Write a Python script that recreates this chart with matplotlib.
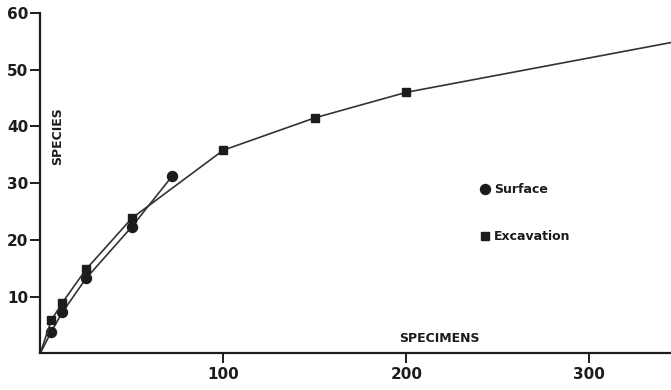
import matplotlib
matplotlib.use("Agg")
import matplotlib.pyplot as plt
from matplotlib.lines import Line2D

# Species accumulation: number of species vs number of specimens examined
surface_specimens = [0, 6, 12, 25, 50, 72]
surface_species = [0, 3.8, 7.2, 13.2, 22.3, 31.2]

excavation_specimens = [0, 6, 12, 25, 50, 100, 150, 200, 350]
excavation_species = [0, 5.8, 8.9, 14.8, 23.8, 35.8, 41.5, 46.0, 55.1]

x_ticks = [100, 200, 300]
y_ticks = [10, 20, 30, 40, 50, 60]

ink = "#1c1c1c"
line_col = "#333333"
font = "DejaVu Sans"

fig = plt.figure(figsize=(6.71, 3.90), dpi=100)
ax = fig.add_axes([0.060, 0.094, 0.940, 0.873])

ax.plot(surface_specimens, surface_species, color=line_col, lw=1.2,
        marker="o", ms=7.2, mfc=ink, mec=ink, markevery=list(range(1, len(surface_specimens))))
ax.plot(excavation_specimens, excavation_species, color=line_col, lw=1.2,
        marker="s", ms=6.2, mfc=ink, mec=ink, markevery=list(range(1, len(excavation_specimens))))

ax.set_xlim(0, 344.6)
ax.set_ylim(0, 60)

for side in ("top", "right"):
    ax.spines[side].set_visible(False)
for side in ("left", "bottom"):
    ax.spines[side].set_linewidth(1.6)
    ax.spines[side].set_color(ink)

ax.set_xticks(x_ticks)
ax.set_yticks(y_ticks)
ax.tick_params(axis="both", direction="out", length=7, width=1.4, color=ink,
               labelsize=11, labelcolor=ink)
ax.tick_params(axis="y", pad=1.5)
ax.tick_params(axis="x", pad=3)
for lab in ax.get_xticklabels() + ax.get_yticklabels():
    lab.set_fontweight("bold")
    lab.set_family(font)

ax.text(218, 2.6, "SPECIMENS", ha="center", va="center", fontsize=9,
        fontweight="bold", family=font, color=ink)
ax.text(9.7, 38.2, "SPECIES", ha="center", va="center", rotation=90,
        fontsize=9, fontweight="bold", family=font, color=ink)

handles = [
    Line2D([], [], linestyle="none", marker="o", ms=7.2, mfc=ink, mec=ink),
    Line2D([], [], linestyle="none", marker="s", ms=5.8, mfc=ink, mec=ink),
]
leg = ax.legend(handles, ["Surface", "Excavation"], loc="upper left",
                bbox_to_anchor=(0.697, 0.500), frameon=False,
                handlelength=0.8, handletextpad=0.35, labelspacing=2.72,
                borderpad=0, borderaxespad=0,
                prop={"family": font, "weight": "bold", "size": 9})
for t in leg.get_texts():
    t.set_color(ink)

fig.savefig("out.png", dpi=100, facecolor="white")
